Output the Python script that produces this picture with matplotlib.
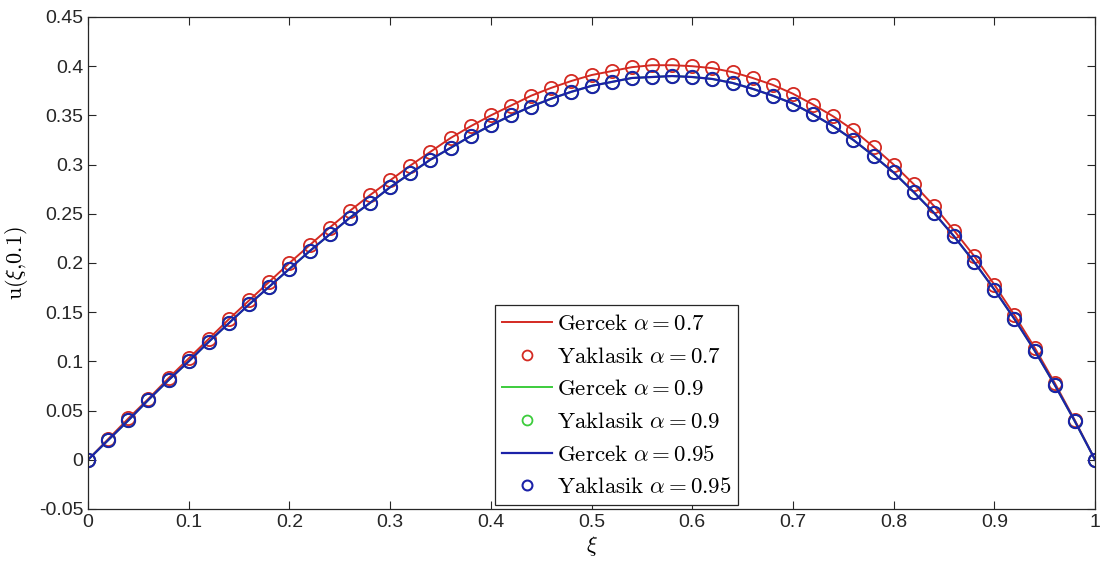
import matplotlib
matplotlib.use('Agg')
import matplotlib.pyplot as plt

plt.rcParams['font.family'] = ['Liberation Sans', 'DejaVu Sans']
plt.rcParams['mathtext.fontset'] = 'cm'

xi = [0.00, 0.02, 0.04, 0.06, 0.08, 0.10, 0.12, 0.14, 0.16, 0.18,
      0.20, 0.22, 0.24, 0.26, 0.28, 0.30, 0.32, 0.34, 0.36, 0.38,
      0.40, 0.42, 0.44, 0.46, 0.48, 0.50, 0.52, 0.54, 0.56, 0.58,
      0.60, 0.62, 0.64, 0.66, 0.68, 0.70, 0.72, 0.74, 0.76, 0.78,
      0.80, 0.82, 0.84, 0.86, 0.88, 0.90, 0.92, 0.94, 0.96, 0.98, 1.00]

# alpha = 0.7
u_07 = [0.000, 0.021, 0.042, 0.062, 0.083, 0.103, 0.123, 0.143, 0.162, 0.181,
        0.200, 0.218, 0.236, 0.253, 0.269, 0.284, 0.299, 0.313, 0.327, 0.339,
        0.350, 0.360, 0.370, 0.378, 0.385, 0.391, 0.395, 0.399, 0.401, 0.401,
        0.400, 0.398, 0.394, 0.388, 0.381, 0.372, 0.361, 0.349, 0.335, 0.318,
        0.300, 0.280, 0.258, 0.233, 0.207, 0.178, 0.147, 0.114, 0.078, 0.040, 0.000]

# alpha = 0.9 (hidden under the 0.95 curve in the picture)
u_09 = [0.000, 0.020, 0.040, 0.061, 0.081, 0.100, 0.120, 0.139, 0.158, 0.176,
        0.194, 0.212, 0.229, 0.246, 0.261, 0.277, 0.291, 0.305, 0.317, 0.329,
        0.340, 0.350, 0.359, 0.367, 0.374, 0.380, 0.384, 0.388, 0.389, 0.390,
        0.389, 0.387, 0.383, 0.377, 0.370, 0.362, 0.351, 0.339, 0.325, 0.309,
        0.292, 0.272, 0.251, 0.227, 0.201, 0.173, 0.143, 0.111, 0.076, 0.039, 0.000]

# alpha = 0.95
u_095 = [0.000, 0.020, 0.040, 0.061, 0.081, 0.100, 0.120, 0.139, 0.158, 0.176,
         0.194, 0.212, 0.229, 0.246, 0.261, 0.277, 0.291, 0.305, 0.317, 0.329,
         0.340, 0.350, 0.359, 0.367, 0.374, 0.380, 0.384, 0.388, 0.389, 0.390,
         0.389, 0.387, 0.383, 0.377, 0.370, 0.362, 0.351, 0.339, 0.325, 0.309,
         0.292, 0.272, 0.251, 0.227, 0.201, 0.173, 0.143, 0.111, 0.076, 0.039, 0.000]

red = '#d42a22'
green = '#3ccc3c'
blue = '#1c22a8'

fig = plt.figure(figsize=(11.03, 5.78), dpi=100)
ax = fig.add_axes([0.0798, 0.1194, 0.9130, 0.8512])

ms = 9.5
mew = 1.3
ax.plot(xi, u_07, '-', color=red, lw=1.4, label=r'$\mathrm{Gercek}\ \alpha = 0.7$')
ax.plot(xi, u_07, 'o', color=red, mfc='none', ms=ms, mew=mew, label=r'$\mathrm{Yaklasik}\ \alpha = 0.7$')
ax.plot(xi, u_09, '-', color=green, lw=1.4, label=r'$\mathrm{Gercek}\ \alpha = 0.9$')
ax.plot(xi, u_09, 'o', color=green, mfc='none', ms=ms, mew=mew, label=r'$\mathrm{Yaklasik}\ \alpha = 0.9$')
ax.plot(xi, u_095, '-', color=blue, lw=1.6, label=r'$\mathrm{Gercek}\ \alpha = 0.95$')
ax.plot(xi, u_095, 'o', color=blue, mfc='none', ms=ms, mew=1.5, label=r'$\mathrm{Yaklasik}\ \alpha = 0.95$')

ax.set_xlim(0, 1)
ax.set_ylim(-0.05, 0.45)
ax.set_xticks([0, 0.1, 0.2, 0.3, 0.4, 0.5, 0.6, 0.7, 0.8, 0.9, 1])
ax.set_xticklabels(['0', '0.1', '0.2', '0.3', '0.4', '0.5', '0.6', '0.7', '0.8', '0.9', '1'])
ax.set_yticks([-0.05, 0, 0.05, 0.1, 0.15, 0.2, 0.25, 0.3, 0.35, 0.4, 0.45])
ax.set_yticklabels(['-0.05', '0', '0.05', '0.1', '0.15', '0.2', '0.25', '0.3', '0.35', '0.4', '0.45'])
ax.tick_params(direction='in', top=True, right=True, labelsize=14, colors='#262626', length=6)
for s in ax.spines.values():
    s.set_color('#262626')
    s.set_linewidth(0.9)

ax.set_xlabel(r'$\xi$', fontsize=16, labelpad=2)
ax.set_ylabel(r'$\mathrm{u}(\xi{,}0.1)$', fontsize=16, labelpad=6)

leg = ax.legend(loc='lower left', bbox_to_anchor=(0.404, 0.008), fontsize=16.5,
                fancybox=False, framealpha=1, edgecolor='#262626', markerscale=0.75,
                handlelength=2.2, handletextpad=0.2, borderpad=0.3, labelspacing=0.42,
                borderaxespad=0)
leg.get_frame().set_linewidth(0.9)

plt.savefig('out.png', dpi=100)
